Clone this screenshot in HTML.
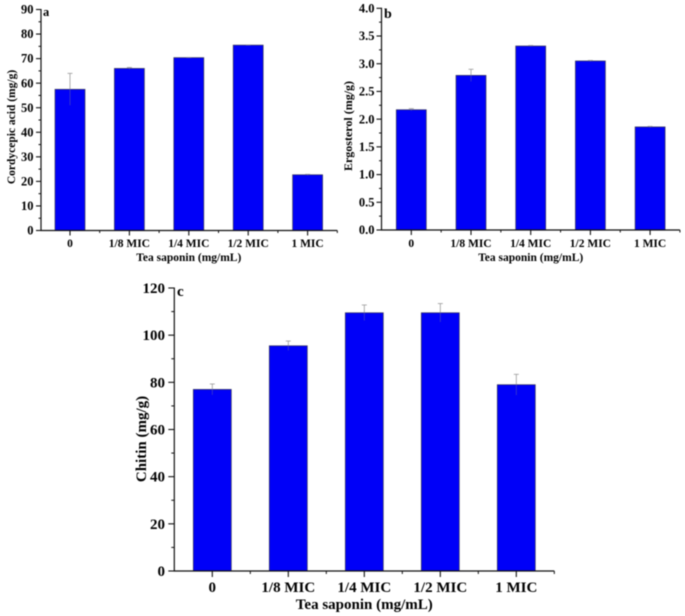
<!DOCTYPE html>
<html lang="en">
<head>
<meta charset="utf-8">
<title>Tea saponin charts</title>
<style>
html,body{margin:0;padding:0;background:#fff;width:685px;height:616px;overflow:hidden}
svg{display:block;filter:blur(0.45px)}
text{font-family:"Liberation Serif",serif;font-weight:bold;fill:#000}
</style>
</head>
<body>
<svg id="chart" xmlns="http://www.w3.org/2000/svg" width="685" height="616" viewBox="0 0 685 616"></svg>
<script>
const categories = ["0", "1/8 MIC", "1/4 MIC", "1/2 MIC", "1 MIC"];

const cordycepicValues = [57.5, 66, 70.4, 75.5, 22.7];
const cordycepicErrors = [6.5, 0.4, 0.1, 0.1, 0.2];
const cordycepicTicks = ["0", "10", "20", "30", "40", "50", "60", "70", "80", "90"];

const ergosterolValues = [2.17, 2.79, 3.32, 3.05, 1.86];
const ergosterolErrors = [0.02, 0.11, 0.01, 0.01, 0.01];
const ergosterolTicks = ["0.0", "0.5", "1.0", "1.5", "2.0", "2.5", "3.0", "3.5", "4.0"];

const chitinValues = [77, 95.5, 109.5, 109.5, 79];
const chitinErrors = [2.3, 2, 3.3, 3.9, 4.4];
const chitinTicks = ["0", "20", "40", "60", "80", "100", "120"];

const svg = document.getElementById('chart');
const NS = 'http://www.w3.org/2000/svg';

function mk(tag, attrs, txt) {
  const el = document.createElementNS(NS, tag);
  for (const k in attrs) el.setAttribute(k, attrs[k]);
  if (txt !== undefined) el.textContent = txt;
  svg.appendChild(el);
  return el;
}

function line(x1, y1, x2, y2, color, w) {
  return mk('line', {x1, y1, x2, y2, stroke: color, 'stroke-width': w});
}

function drawPanel(p) {
  const n = p.ticks.length - 1;
  const yMax = parseFloat(p.ticks[n]);
  const yScale = v => p.y0 - (v / yMax) * (p.y0 - p.yTop);
  const xScale = i => p.c0 + i * p.step;

  // bars
  p.values.forEach((v, i) => {
    const bar = mk('rect', {
      x: xScale(i) - p.barW / 2, y: yScale(v), width: p.barW, height: p.y0 - yScale(v),
      fill: '#0000f8', stroke: '#3a3a5a', 'stroke-width': 0.7
    });
    
    

    const e = p.errors[i];
    const stem = line(xScale(i), yScale(v + e), xScale(i), yScale(v), '#9a9a9a', 0.8);
    
    

    const lower = line(xScale(i), yScale(v), xScale(i), yScale(v - e), '#3c3cc8', 0.8);
    
    

    const cap = line(xScale(i) - 2.5, yScale(v + e), xScale(i) + 2.5, yScale(v + e), '#9a9a9a', 0.8);
    
    
  });

  // y axis
  const yAxis = line(p.x0, p.y0 + 0.5, p.x0, p.yTop - 0.5, '#111', 1.2);
  
  

  p.ticks.forEach((t, i) => {
    const v = parseFloat(t);
    const tick = line(p.x0 - p.major, yScale(v), p.x0, yScale(v), '#111', 1.1);
    
    

    const label = mk('text', {x: p.yLabelX, y: yScale(v) + p.tickFont * 0.33, 'text-anchor': 'end', 'font-size': p.tickFont}, t);
    
    

    if (i < n) {
      const next = parseFloat(p.ticks[i + 1]);
      const m = yScale((v + next) / 2);
      const minor = line(p.x0 - p.major / 2, m, p.x0, m, '#111', 1);
      
      
    }
  });

  // x axis
  const xEnd = xScale(categories.length - 1) + p.step / 2;
  const xAxis = line(p.x0 - 0.5, p.y0, xEnd, p.y0, '#111', 1.2);
  
  

  categories.forEach((c, i) => {
    const tick = line(xScale(i), p.y0, xScale(i), p.y0 + p.major, '#111', 1.1);
    
    

    const minor = line(xScale(i) + p.step / 2, p.y0, xScale(i) + p.step / 2, p.y0 + p.major / 2, '#111', 1);
    
    

    const label = mk('text', {x: xScale(i), y: p.catY, 'text-anchor': 'middle', 'font-size': p.catFont}, c);
    
    
  });

  // titles
  const xTitle = mk('text', {x: xScale(2), y: p.titleY, 'text-anchor': 'middle', 'font-size': p.catFont}, 'Tea saponin (mg/mL)');
  
  

  const yTitle = mk('text', {
    x: 0, y: 0, 'text-anchor': 'middle', 'font-size': p.yTitleFont,
    transform: 'translate(' + p.yTitleX + ',' + p.yTitleY + ') rotate(-90)'
  }, p.yTitle);
  
  

  const letter = mk('text', {x: p.letterX, y: p.letterY, 'font-size': p.letterFont}, p.letter);
  
  
}

drawPanel({
  id: 'panel-a', letter: 'a', yTitle: 'Cordycepic acid (mg/g)',
  values: cordycepicValues, errors: cordycepicErrors, ticks: cordycepicTicks,
  x0: 41, y0: 230.5, yTop: 9.5, c0: 70, step: 59.4, barW: 30, major: 5,
  tickFont: 12.5, catFont: 11.5, yTitleFont: 11.5,
  yLabelX: 33.5, catY: 247, titleY: 261, yTitleX: 15, yTitleY: 127,
  letterX: 43, letterY: 16, letterFont: 12.5
});

drawPanel({
  id: 'panel-b', letter: 'b', yTitle: 'Ergosterol (mg/g)',
  values: ergosterolValues, errors: ergosterolErrors, ticks: ergosterolTicks,
  x0: 381.5, y0: 230, yTop: 8.3, c0: 411.3, step: 59.7, barW: 30, major: 5,
  tickFont: 12.5, catFont: 11.5, yTitleFont: 12,
  yLabelX: 374.5, catY: 247, titleY: 261, yTitleX: 352, yTitleY: 126,
  letterX: 384, letterY: 18, letterFont: 14
});

drawPanel({
  id: 'panel-c', letter: 'c', yTitle: 'Chitin (mg/g)',
  values: chitinValues, errors: chitinErrors, ticks: chitinTicks,
  x0: 174.3, y0: 571, yTop: 288, c0: 212.3, step: 76, barW: 38, major: 6,
  tickFont: 15, catFont: 15, yTitleFont: 15,
  yLabelX: 165, catY: 592, titleY: 609, yTitleX: 146, yTitleY: 439,
  letterX: 177, letterY: 296, letterFont: 15
});
</script>
</body>
</html>
